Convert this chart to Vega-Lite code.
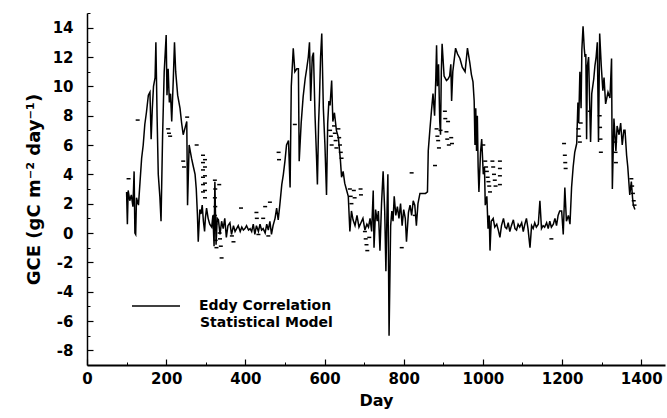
{
  "$schema": "https://vega.github.io/schema/vega-lite/v6.json",
  "width": 578,
  "height": 352,
  "autosize": {"type": "none"},
  "padding": {"left": 87, "top": 13, "right": 2, "bottom": 53},
  "background": "white",
  "config": {
    "view": {"stroke": null},
    "font": "DejaVu Sans",
    "axis": {
      "grid": false,
      "labelFont": "DejaVu Sans",
      "labelFontWeight": "bold",
      "labelFontSize": 15,
      "labelColor": "black",
      "titleFont": "DejaVu Sans",
      "titleFontWeight": "bold",
      "titleFontSize": 16,
      "titleColor": "black",
      "domainColor": "black",
      "tickColor": "black"
    }
  },
  "datasets": {
    "eddy": [
      {"day":100,"gce":2.8},{"day":102,"gce":0.6},{"day":104,"gce":2.9},{"day":108,"gce":2.2},{"day":112,"gce":2.6},{"day":116,"gce":1.8},{"day":119,"gce":4.2},{"day":121,"gce":0.0},{"day":123,"gce":-0.1},{"day":125,"gce":2.4},{"day":130,"gce":1.9},{"day":134,"gce":3.5},{"day":138,"gce":5.1},{"day":142,"gce":6.0},{"day":146,"gce":7.4},{"day":150,"gce":8.2},{"day":155,"gce":9.4},{"day":159,"gce":9.6},{"day":162,"gce":6.4},{"day":165,"gce":8.5},{"day":168,"gce":10.0},{"day":172,"gce":10.6},{"day":174,"gce":13.0},{"day":177,"gce":8.0},{"day":180,"gce":4.0},{"day":184,"gce":2.5},{"day":187,"gce":0.8},{"day":191,"gce":6.7},{"day":195,"gce":11.0},{"day":198,"gce":12.5},{"day":200,"gce":13.5},{"day":202,"gce":9.4},{"day":205,"gce":11.2},{"day":208,"gce":8.9},{"day":211,"gce":9.5},{"day":214,"gce":7.6},{"day":218,"gce":10.5},{"day":221,"gce":13.0},{"day":224,"gce":11.0},{"day":229,"gce":9.4},{"day":235,"gce":8.5},{"day":239,"gce":7.5},{"day":243,"gce":6.7},{"day":248,"gce":7.2},{"day":252,"gce":7.6},{"day":254,"gce":1.9},{"day":258,"gce":6.0},{"day":264,"gce":5.1},{"day":268,"gce":4.6},{"day":273,"gce":4.0},{"day":276,"gce":3.0},{"day":279,"gce":1.2},{"day":281,"gce":-0.6},{"day":285,"gce":1.6},{"day":288,"gce":1.3},{"day":291,"gce":1.9},{"day":294,"gce":0.8},{"day":297,"gce":0.1},{"day":299,"gce":1.0},{"day":302,"gce":1.7},{"day":306,"gce":1.0},{"day":310,"gce":0.6},{"day":315,"gce":0.4},{"day":318,"gce":1.2},{"day":321,"gce":-0.9},{"day":323,"gce":3.5},{"day":326,"gce":-0.8},{"day":329,"gce":1.0},{"day":332,"gce":0.9},{"day":336,"gce":-0.1},{"day":340,"gce":0.8},{"day":344,"gce":0.3},{"day":348,"gce":1.0},{"day":352,"gce":-0.3},{"day":356,"gce":0.5},{"day":361,"gce":0.7},{"day":365,"gce":-0.1},{"day":370,"gce":0.5},{"day":374,"gce":0.1},{"day":378,"gce":0.3},{"day":382,"gce":0.5},{"day":387,"gce":0.1},{"day":391,"gce":0.4},{"day":395,"gce":0.2},{"day":399,"gce":0.3},{"day":403,"gce":0.5},{"day":408,"gce":0.2},{"day":412,"gce":0.3},{"day":416,"gce":0.1},{"day":420,"gce":0.6},{"day":424,"gce":-0.1},{"day":428,"gce":0.5},{"day":433,"gce":0.1},{"day":437,"gce":0.6},{"day":441,"gce":0.2},{"day":445,"gce":0.3},{"day":450,"gce":0.0},{"day":454,"gce":0.6},{"day":458,"gce":0.2},{"day":462,"gce":0.8},{"day":466,"gce":-0.1},{"day":470,"gce":0.5},{"day":475,"gce":1.0},{"day":479,"gce":1.7},{"day":483,"gce":0.9},{"day":487,"gce":1.9},{"day":492,"gce":3.3},{"day":496,"gce":4.0},{"day":500,"gce":4.9},{"day":504,"gce":6.0},{"day":509,"gce":6.3},{"day":513,"gce":3.1},{"day":516,"gce":10.0},{"day":521,"gce":12.6},{"day":525,"gce":11.0},{"day":530,"gce":11.2},{"day":534,"gce":11.2},{"day":536,"gce":4.9},{"day":541,"gce":7.5},{"day":546,"gce":9.3},{"day":551,"gce":10.5},{"day":555,"gce":11.2},{"day":559,"gce":12.0},{"day":562,"gce":13.0},{"day":565,"gce":9.0},{"day":569,"gce":12.0},{"day":572,"gce":12.3},{"day":576,"gce":8.0},{"day":580,"gce":5.0},{"day":582,"gce":3.3},{"day":585,"gce":7.5},{"day":587,"gce":9.0},{"day":590,"gce":12.0},{"day":593,"gce":13.6},{"day":597,"gce":8.5},{"day":601,"gce":6.0},{"day":605,"gce":2.6},{"day":608,"gce":7.5},{"day":611,"gce":9.0},{"day":614,"gce":8.7},{"day":618,"gce":10.4},{"day":621,"gce":7.6},{"day":625,"gce":8.2},{"day":630,"gce":7.0},{"day":635,"gce":6.5},{"day":640,"gce":5.0},{"day":643,"gce":3.8},{"day":647,"gce":4.2},{"day":651,"gce":3.4},{"day":656,"gce":2.9},{"day":660,"gce":2.5},{"day":664,"gce":0.1},{"day":668,"gce":1.5},{"day":672,"gce":0.9},{"day":677,"gce":0.5},{"day":682,"gce":1.2},{"day":687,"gce":0.4},{"day":692,"gce":0.7},{"day":697,"gce":1.0},{"day":702,"gce":0.2},{"day":707,"gce":0.6},{"day":711,"gce":0.4},{"day":715,"gce":1.0},{"day":719,"gce":0.1},{"day":723,"gce":2.9},{"day":725,"gce":-1.0},{"day":729,"gce":1.6},{"day":733,"gce":0.8},{"day":736,"gce":1.5},{"day":740,"gce":-1.2},{"day":744,"gce":2.0},{"day":748,"gce":4.2},{"day":752,"gce":1.5},{"day":755,"gce":-2.6},{"day":758,"gce":1.7},{"day":760,"gce":4.0},{"day":763,"gce":-7.0},{"day":767,"gce":0.5},{"day":770,"gce":1.5},{"day":773,"gce":0.8},{"day":776,"gce":2.5},{"day":780,"gce":1.2},{"day":784,"gce":1.8},{"day":788,"gce":1.0},{"day":792,"gce":2.0},{"day":796,"gce":0.5},{"day":800,"gce":1.6},{"day":804,"gce":1.0},{"day":807,"gce":-0.6},{"day":812,"gce":1.4},{"day":816,"gce":1.9},{"day":820,"gce":1.2},{"day":824,"gce":2.2},{"day":828,"gce":1.9},{"day":832,"gce":0.5},{"day":836,"gce":2.0},{"day":841,"gce":2.7},{"day":848,"gce":2.7},{"day":855,"gce":2.7},{"day":860,"gce":2.8},{"day":862,"gce":5.6},{"day":866,"gce":7.0},{"day":870,"gce":8.3},{"day":874,"gce":9.5},{"day":878,"gce":8.0},{"day":881,"gce":10.5},{"day":883,"gce":12.8},{"day":885,"gce":10.0},{"day":888,"gce":11.5},{"day":891,"gce":7.6},{"day":893,"gce":6.7},{"day":895,"gce":11.0},{"day":897,"gce":12.9},{"day":902,"gce":10.7},{"day":908,"gce":10.4},{"day":912,"gce":10.5},{"day":916,"gce":10.7},{"day":919,"gce":11.5},{"day":921,"gce":9.0},{"day":924,"gce":11.0},{"day":931,"gce":12.6},{"day":936,"gce":12.2},{"day":942,"gce":11.9},{"day":948,"gce":11.3},{"day":955,"gce":11.0},{"day":961,"gce":12.6},{"day":967,"gce":11.6},{"day":971,"gce":10.8},{"day":975,"gce":10.3},{"day":978,"gce":9.0},{"day":980,"gce":6.0},{"day":982,"gce":8.5},{"day":984,"gce":5.6},{"day":986,"gce":8.0},{"day":988,"gce":4.5},{"day":990,"gce":2.8},{"day":994,"gce":5.5},{"day":997,"gce":6.4},{"day":1001,"gce":4.0},{"day":1004,"gce":4.5},{"day":1006,"gce":1.9},{"day":1010,"gce":2.5},{"day":1013,"gce":0.3},{"day":1016,"gce":1.2},{"day":1018,"gce":-1.2},{"day":1021,"gce":0.8},{"day":1026,"gce":1.0},{"day":1030,"gce":0.4},{"day":1035,"gce":0.6},{"day":1039,"gce":0.2},{"day":1043,"gce":-0.3},{"day":1047,"gce":0.5},{"day":1052,"gce":1.0},{"day":1056,"gce":0.4},{"day":1060,"gce":0.3},{"day":1064,"gce":0.7},{"day":1068,"gce":0.1},{"day":1072,"gce":0.5},{"day":1077,"gce":0.9},{"day":1081,"gce":0.3},{"day":1085,"gce":0.2},{"day":1089,"gce":0.6},{"day":1093,"gce":0.4},{"day":1098,"gce":0.7},{"day":1102,"gce":0.1},{"day":1106,"gce":0.6},{"day":1110,"gce":1.0},{"day":1114,"gce":0.3},{"day":1119,"gce":-1.0},{"day":1123,"gce":0.5},{"day":1127,"gce":0.3},{"day":1131,"gce":0.7},{"day":1135,"gce":0.4},{"day":1140,"gce":0.6},{"day":1144,"gce":2.2},{"day":1148,"gce":0.3},{"day":1152,"gce":0.5},{"day":1156,"gce":0.4},{"day":1161,"gce":0.7},{"day":1165,"gce":0.3},{"day":1169,"gce":0.8},{"day":1173,"gce":0.4},{"day":1178,"gce":0.6},{"day":1182,"gce":1.0},{"day":1186,"gce":0.5},{"day":1190,"gce":1.2},{"day":1194,"gce":1.5},{"day":1199,"gce":1.5},{"day":1203,"gce":-0.1},{"day":1207,"gce":3.1},{"day":1211,"gce":0.8},{"day":1216,"gce":1.2},{"day":1220,"gce":0.6},{"day":1224,"gce":3.1},{"day":1228,"gce":4.5},{"day":1232,"gce":5.5},{"day":1237,"gce":6.1},{"day":1240,"gce":8.9},{"day":1242,"gce":7.5},{"day":1245,"gce":11.0},{"day":1248,"gce":8.5},{"day":1250,"gce":12.5},{"day":1253,"gce":14.1},{"day":1256,"gce":12.6},{"day":1258,"gce":12.0},{"day":1260,"gce":12.2},{"day":1262,"gce":6.4},{"day":1264,"gce":11.4},{"day":1267,"gce":12.0},{"day":1270,"gce":8.5},{"day":1272,"gce":6.2},{"day":1275,"gce":9.5},{"day":1280,"gce":10.5},{"day":1283,"gce":11.4},{"day":1286,"gce":12.0},{"day":1289,"gce":13.0},{"day":1292,"gce":6.2},{"day":1295,"gce":13.6},{"day":1299,"gce":11.4},{"day":1303,"gce":9.7},{"day":1306,"gce":10.6},{"day":1310,"gce":8.8},{"day":1316,"gce":9.6},{"day":1321,"gce":9.2},{"day":1325,"gce":11.9},{"day":1327,"gce":3.0},{"day":1331,"gce":7.8},{"day":1336,"gce":5.6},{"day":1339,"gce":7.3},{"day":1344,"gce":6.7},{"day":1348,"gce":7.5},{"day":1352,"gce":6.0},{"day":1356,"gce":7.0},{"day":1359,"gce":7.0},{"day":1363,"gce":5.3},{"day":1366,"gce":4.5},{"day":1371,"gce":2.6},{"day":1375,"gce":3.5},{"day":1378,"gce":2.4},{"day":1380,"gce":1.9},{"day":1384,"gce":1.6}
    ],
    "model": [
      {"day":105,"gce":3.7},{"day":128,"gce":7.7},{"day":205,"gce":7.1},{"day":207,"gce":6.8},{"day":210,"gce":6.6},{"day":243,"gce":4.9},{"day":245,"gce":4.5},{"day":253,"gce":7.9},{"day":277,"gce":6.0},
      {"day":293,"gce":5.3},{"day":293,"gce":4.8},{"day":293,"gce":4.3},{"day":293,"gce":3.8},{"day":293,"gce":3.3},{"day":293,"gce":2.8},
      {"day":298,"gce":5.0},{"day":298,"gce":4.5},{"day":298,"gce":3.9},{"day":298,"gce":3.4},{"day":298,"gce":2.9},{"day":298,"gce":2.4},
      {"day":323,"gce":3.6},{"day":324,"gce":3.0},{"day":323,"gce":2.4},{"day":324,"gce":1.8},{"day":323,"gce":1.2},{"day":324,"gce":0.6},{"day":325,"gce":-0.5},{"day":327,"gce":-1.0},
      {"day":334,"gce":3.3},{"day":335,"gce":0.0},{"day":336,"gce":-0.4},{"day":338,"gce":-0.9},{"day":340,"gce":-1.7},{"day":366,"gce":-0.2},{"day":370,"gce":-0.6},{"day":389,"gce":1.7},{"day":428,"gce":1.4},{"day":429,"gce":1.0},{"day":433,"gce":-0.1},{"day":445,"gce":1.0},{"day":450,"gce":1.8},{"day":458,"gce":-0.2},{"day":462,"gce":2.1},{"day":484,"gce":5.5},{"day":485,"gce":5.0},
      {"day":525,"gce":7.4},{"day":614,"gce":7.0},{"day":616,"gce":6.6},{"day":618,"gce":6.0},{"day":624,"gce":7.3},{"day":626,"gce":6.8},{"day":628,"gce":6.3},{"day":630,"gce":5.8},{"day":635,"gce":7.1},{"day":637,"gce":6.5},{"day":639,"gce":6.0},{"day":641,"gce":5.5},{"day":643,"gce":5.1},
      {"day":664,"gce":3.0},{"day":666,"gce":2.5},{"day":668,"gce":2.0},{"day":674,"gce":2.9},{"day":676,"gce":2.4},{"day":691,"gce":3.0},{"day":692,"gce":2.6},{"day":702,"gce":0.1},{"day":704,"gce":-0.4},{"day":706,"gce":-0.8},{"day":708,"gce":-1.2},{"day":713,"gce":-0.3},{"day":795,"gce":-1.0},{"day":820,"gce":4.1},{"day":828,"gce":1.2},
      {"day":879,"gce":4.6},{"day":883,"gce":7.1},{"day":885,"gce":6.6},{"day":887,"gce":6.3},{"day":889,"gce":5.8},{"day":893,"gce":7.0},{"day":904,"gce":8.3},{"day":905,"gce":7.8},{"day":908,"gce":6.9},{"day":910,"gce":6.4},{"day":912,"gce":7.6},{"day":914,"gce":6.0},{"day":920,"gce":6.5},{"day":922,"gce":6.1},{"day":1001,"gce":6.0},
      {"day":1006,"gce":4.9},{"day":1008,"gce":4.5},{"day":1010,"gce":4.2},{"day":1012,"gce":3.8},{"day":1014,"gce":3.5},{"day":1016,"gce":3.2},{"day":1018,"gce":2.8},
      {"day":1024,"gce":4.9},{"day":1026,"gce":4.5},{"day":1028,"gce":4.0},{"day":1030,"gce":3.6},{"day":1032,"gce":3.2},
      {"day":1043,"gce":4.9},{"day":1043,"gce":4.4},{"day":1043,"gce":3.9},{"day":1043,"gce":3.3},{"day":1173,"gce":-0.4},
      {"day":1205,"gce":6.1},{"day":1207,"gce":5.3},{"day":1208,"gce":4.8},{"day":1209,"gce":4.4},{"day":1241,"gce":7.1},{"day":1243,"gce":6.6},{"day":1245,"gce":6.2},{"day":1247,"gce":7.5},{"day":1270,"gce":8.3},
      {"day":1295,"gce":8.0},{"day":1296,"gce":7.2},{"day":1297,"gce":6.4},{"day":1298,"gce":5.5},{"day":1334,"gce":6.2},{"day":1335,"gce":5.5},{"day":1336,"gce":4.8},
      {"day":1375,"gce":3.7},{"day":1377,"gce":3.2},{"day":1379,"gce":2.7},{"day":1381,"gce":2.2},{"day":1383,"gce":1.9}
    ]
  },
  "layer": [
    {
      "data": {"name": "eddy"},
      "mark": {"type": "line", "strokeWidth": 1.5, "clip": true},
      "encoding": {
        "x": {
          "field": "day", "type": "quantitative",
          "scale": {"domain": [0, 1460], "nice": false, "zero": false},
          "axis": {"orient": "bottom", "title": "Day", "values": [0, 200, 400, 600, 800, 1000, 1200, 1400], "labelExpr": "'' + datum.value", "tickSize": -6, "tickWidth": 1.2, "labelPadding": 12, "domainWidth": 1.8, "titlePadding": 6, "labelFlush": false}
        },
        "y": {
          "field": "gce", "type": "quantitative",
          "scale": {"domain": [-9, 15], "nice": false, "zero": false},
          "axis": {"orient": "left", "title": "GCE (gC m⁻² day⁻¹)", "titleFontSize": 18, "values": [-8, -6, -4, -2, 0, 2, 4, 6, 8, 10, 12, 14], "labelExpr": "'' + datum.value", "tickSize": -6, "tickWidth": 1.2, "labelPadding": 20, "domainWidth": 1.5, "titlePadding": 9, "labelFlush": false}
        },
        "stroke": {
          "datum": "Eddy Correlation", "type": "nominal",
          "scale": {"range": ["black"]},
          "legend": {"orient": "none", "legendX": 44, "legendY": 268, "title": null, "padding": 0, "symbolType": "stroke", "symbolSize": 2304, "symbolStrokeWidth": 1.5, "symbolStrokeColor": "black", "labelFont": "DejaVu Sans", "labelFontWeight": "bold", "labelFontSize": 14, "labelColor": "black", "labelOffset": 18}
        }
      }
    },
    {
      "data": {"name": "model"},
      "mark": {"type": "tick", "orient": "horizontal", "size": 4, "thickness": 1.5, "opacity": 1},
      "encoding": {
        "x": {
          "field": "day", "type": "quantitative",
          "axis": {"orient": "bottom", "title": null, "values": [100, 300, 500, 700, 900, 1100, 1300], "labels": false, "domain": false, "tickSize": -3, "tickWidth": 1}
        },
        "y": {
          "field": "gce", "type": "quantitative",
          "axis": {"orient": "left", "title": null, "values": [-7, -5, -3, -1, 1, 3, 5, 7, 9, 11, 13, 15], "labels": false, "domain": false, "tickSize": -3, "tickWidth": 1}
        },
        "fill": {
          "datum": "Statistical Model", "type": "nominal",
          "scale": {"range": ["black"]},
          "legend": {"orient": "none", "legendX": 95, "legendY": 303, "title": null, "padding": 0, "symbolType": "square", "symbolSize": 4, "symbolOpacity": 0, "labelFont": "DejaVu Sans", "labelFontWeight": "bold", "labelFontSize": 14, "labelColor": "black", "labelOffset": 4}
        }
      }
    }
  ],
  "resolve": {"axis": {"x": "independent", "y": "independent"}}
}
